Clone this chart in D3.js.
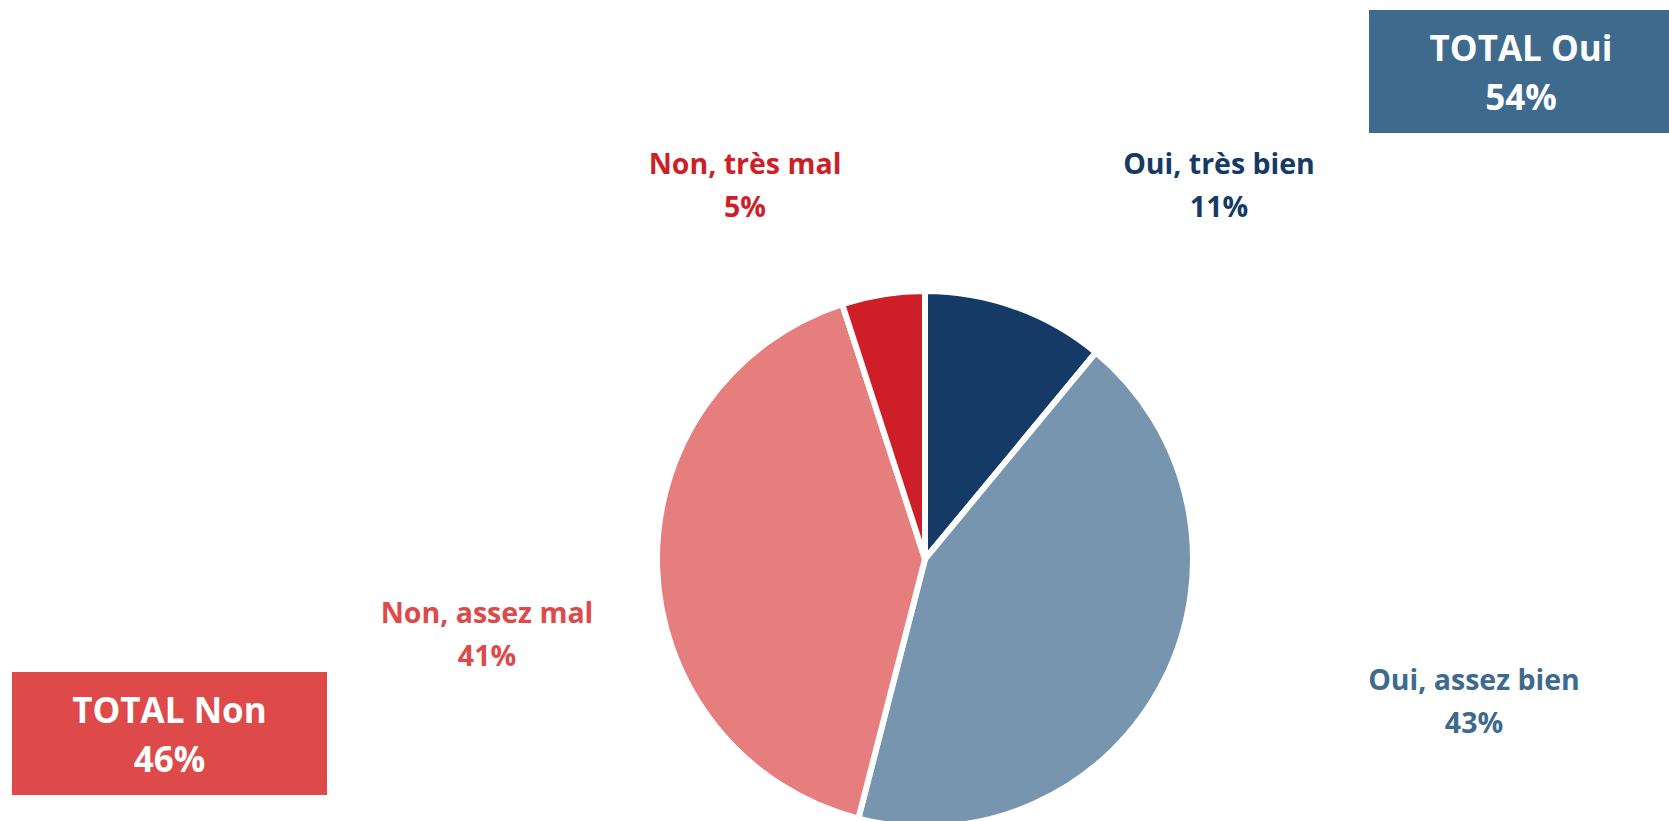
<!DOCTYPE html>
<html>
<head>
<meta charset="utf-8">
<script src="https://cdn.jsdelivr.net/npm/d3@7"></script>
<style>
  body { margin: 0; background: #fff; }
  text { font-family: "Open Sans", sans-serif; font-weight: bold; }
</style>
</head>
<body>
<div id="chart"></div>
<script>
var svgWidth = 1669;
var svgHeight = 821;

// data
var categories = ["Oui, très bien", "Oui, assez bien", "Non, assez mal", "Non, très mal"];
var values = [11, 43, 41, 5];
var totalLabels = ["TOTAL Oui", "TOTAL Non"];
var totalValues = [54, 46];

var sliceColors = ["#153a66", "#7795ae", "#e67e7d", "#ce1f28"];
var labelColors = ["#153a66", "#3d6a8d", "#de4a4a", "#ce1f28"];
// label centre x and first baseline y
var labelPos = [[1219, 174], [1474, 690], [487, 623], [745, 174]];

var cx = 925, cy = 559, radius = 268;

var svg = d3.select("#chart")
  .append("svg")
  .attr("width", svgWidth)
  .attr("height", svgHeight);

var pie = d3.pie().sort(null).value(d => d);
var arc = d3.arc().innerRadius(0).outerRadius(radius);

var pieGroup = svg.append("g")
  .attr("transform", `translate(${cx}, ${cy})`);

pieGroup.selectAll("path")
  .data(pie(values))
  .enter()
  .append("path")
  .attr("d", arc)
  .attr("fill", (d, i) => sliceColors[i])
  .attr("stroke", "#fff")
  .attr("stroke-width", 6)
  .attr("stroke-linejoin", "round");

// slice labels
var labels = svg.selectAll(".sliceLabel")
  .data(categories)
  .enter()
  .append("text")
  .attr("class", "sliceLabel")
  .attr("text-anchor", "middle")
  .attr("font-size", "28.5px")
  .attr("fill", (d, i) => labelColors[i]);

labels.append("tspan")
  .attr("x", (d, i) => labelPos[i][0])
  .attr("y", (d, i) => labelPos[i][1])
  .text(d => d);

labels.append("tspan")
  .attr("x", (d, i) => labelPos[i][0])
  .attr("y", (d, i) => labelPos[i][1] + 43)
  .text((d, i) => values[i] + "%");

// total boxes
var boxes = [
  {x: 1369, y: 10, w: 300, h: 123, color: "#3d6a8d"},
  {x: 12, y: 672, w: 315, h: 123, color: "#de4a4a"}
];

boxes.forEach((b, i) => {
  svg.append("rect")
    .attr("x", b.x)
    .attr("y", b.y)
    .attr("width", b.w)
    .attr("height", b.h)
    .attr("fill", b.color);

  var t = svg.append("text")
    .attr("text-anchor", "middle")
    .attr("font-size", "35px")
    .attr("fill", "#fff");
  var tx = i === 0 ? 1521 : b.x + b.w / 2;
  t.append("tspan")
    .attr("x", tx)
    .attr("y", b.y + 51)
    .text(totalLabels[i]);
  t.append("tspan")
    .attr("x", tx)
    .attr("y", b.y + 100)
    .text(totalValues[i] + "%");
});
</script>
</body>
</html>
